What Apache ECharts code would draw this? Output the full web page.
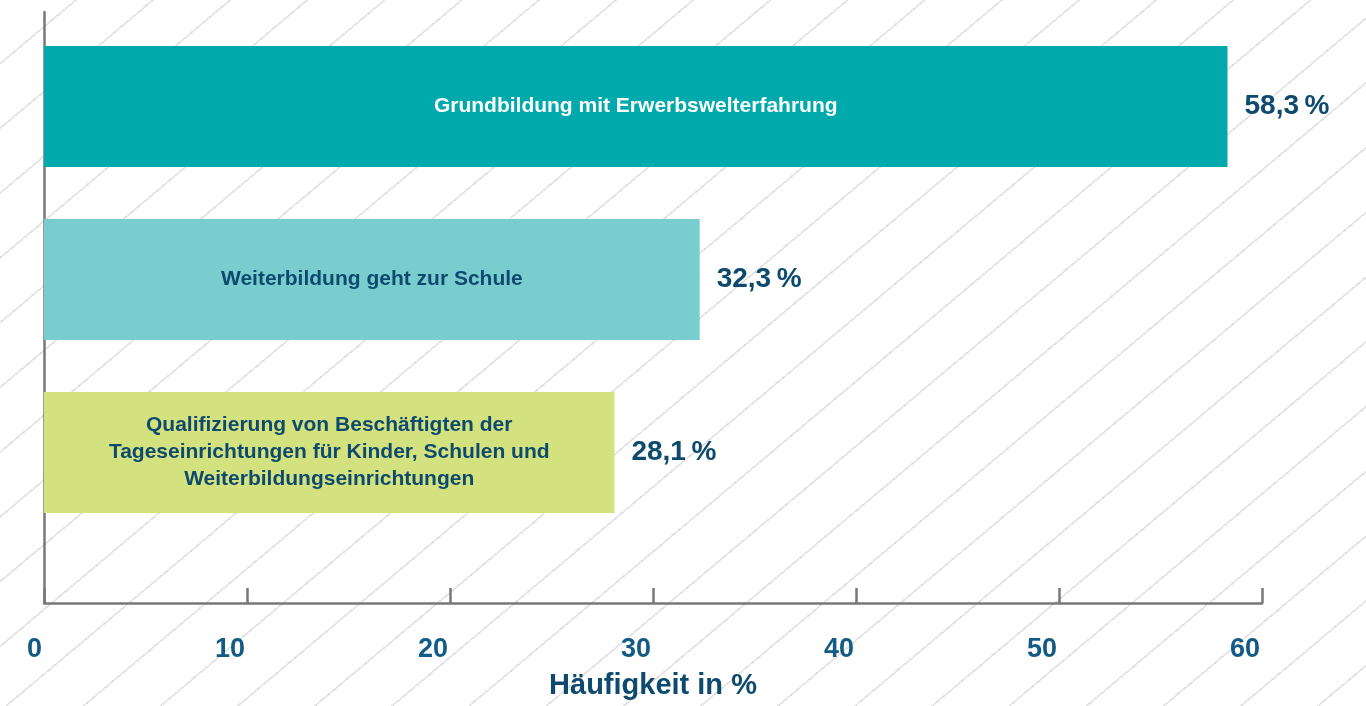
<!DOCTYPE html>
<html>
<head>
<meta charset="utf-8">
<script src="https://cdn.jsdelivr.net/npm/echarts@6/dist/echarts.min.js"></script>
<style>
  html, body { margin: 0; padding: 0; }
  body {
    width: 1366px; height: 706px; overflow: hidden;
    background: #fff repeating-linear-gradient(140deg, #fff 0 48px, #e1e1e1 48px 49.6px);
  }
  #main { width: 1366px; height: 706px; }
</style>
</head>
<body>
<div id="main"></div>
<script>
// Daten
const categories = [
  'Grundbildung mit Erwerbswelterfahrung',
  'Weiterbildung geht zur Schule',
  'Qualifizierung von Beschäftigten der\nTageseinrichtungen für Kinder, Schulen und\nWeiterbildungseinrichtungen'
];
const values = [58.3, 32.3, 28.1];
const barColors = ['#00a9ac', '#79cdcf', '#d4e17f'];
const innerTextColors = ['#ffffff', '#0d4a6e', '#0d4a6e'];
const xTicks = [0, 10, 20, 30, 40, 50, 60];

const chart = echarts.init(document.getElementById('main'), null, { renderer: 'canvas' });

const axisGray = '#787878';
const fontFam = '"Liberation Sans", Arial, sans-serif';

const option = {
  backgroundColor: 'transparent',
  animation: false,
  grid: [
    // Balken
    { left: 44, right: 104, top: 20, height: 519, outerBoundsMode: 'none', containLabel: false },
    // Achsen
    { left: 44, right: 104, top: 12, bottom: 103, outerBoundsMode: 'none', containLabel: false }
  ],
  xAxis: [
    { gridIndex: 0, type: 'value', min: 0, max: 60, show: false },
    {
      gridIndex: 1, type: 'value', min: xTicks[0], max: xTicks[xTicks.length - 1], interval: 10,
      axisLine: { show: true, lineStyle: { color: axisGray, width: 2.5 } },
      axisTick: { show: true, inside: true, length: 15, lineStyle: { color: axisGray, width: 2.5 } },
      splitLine: { show: false },
      axisLabel: {
        color: '#115b84', fontSize: 27, fontWeight: 'bold', fontFamily: fontFam,
        margin: 33, align: 'right', padding: [0, 2, 0, 0]
      },
      name: 'Häufigkeit in %',
      nameLocation: 'middle',
      nameGap: 68,
      nameTextStyle: { color: '#0d4a6e', fontSize: 29, fontWeight: 'bold', fontFamily: fontFam }
    }
  ],
  yAxis: [
    { gridIndex: 0, type: 'category', data: categories, inverse: true, show: false },
    {
      gridIndex: 1, type: 'value', min: 0, max: 1,
      axisLine: { show: true, lineStyle: { color: axisGray, width: 2.5 } },
      axisTick: { show: false }, axisLabel: { show: false }, splitLine: { show: false }
    }
  ],
  series: [
    {
      type: 'bar',
      xAxisIndex: 0, yAxisIndex: 0,
      barWidth: 121,
      data: values.map((v, i) => ({
        value: v,
        itemStyle: { color: barColors[i] },
        label: { color: innerTextColors[i] }
      })),
      label: {
        show: true,
        position: 'inside',
        formatter: (p) => categories[p.dataIndex],
        fontSize: 21, fontWeight: 'bold', fontFamily: fontFam,
        lineHeight: 27, align: 'center', padding: [3, 0, 0, 0]
      }
    },
    {
      type: 'bar',
      xAxisIndex: 0, yAxisIndex: 0,
      barWidth: 121,
      barGap: '-100%',
      data: values,
      itemStyle: { color: 'rgba(0,0,0,0)' },
      silent: true,
      label: {
        show: true,
        position: 'right',
        distance: 17,
        formatter: (p) => p.value.toFixed(1).replace('.', ',') + '\u2009%',
        color: '#0d4a6e', fontSize: 28, fontWeight: 'bold', fontFamily: fontFam
      }
    }
  ]
};

chart.setOption(option);
</script>
</body>
</html>
